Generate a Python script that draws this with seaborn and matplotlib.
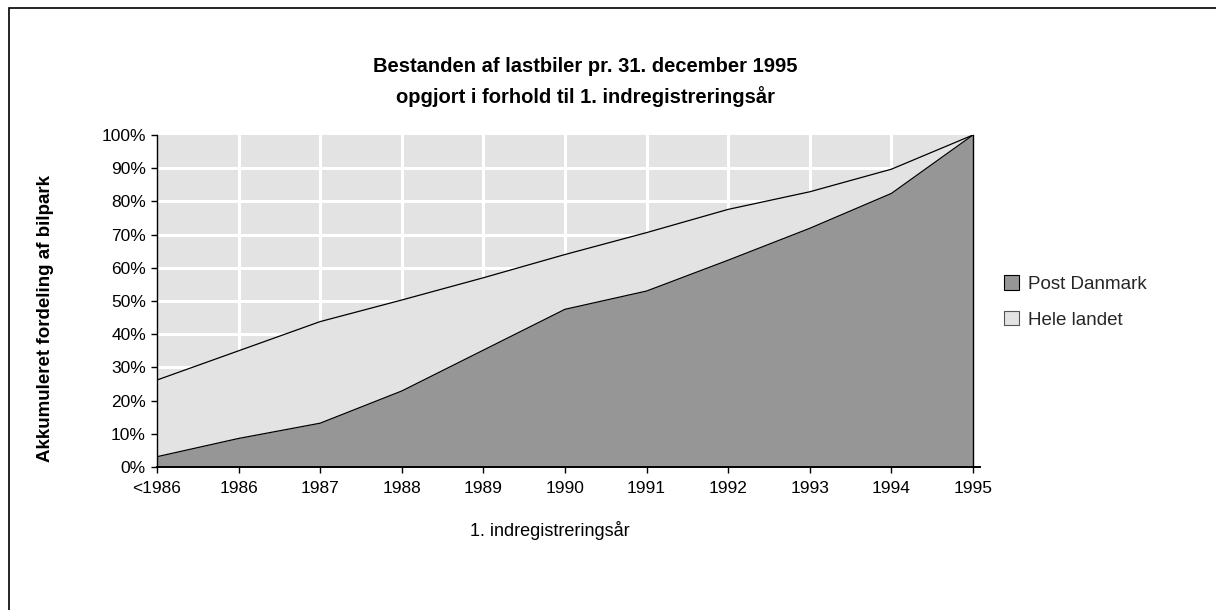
import matplotlib
matplotlib.use("Agg")
import matplotlib.pyplot as plt
from matplotlib.patches import Patch, Rectangle
import seaborn as sns
import pandas as pd
import numpy as np

# ---- data ----
years = ["<1986", "1986", "1987", "1988", "1989", "1990", "1991", "1992", "1993", "1994", "1995"]
hele_landet = [26.2, 35.0, 43.8, 50.3, 57.0, 64.0, 70.6, 77.6, 82.9, 89.7, 100.0]
post_danmark = [3.1, 8.6, 13.2, 22.9, 35.2, 47.5, 53.0, 62.3, 71.9, 82.4, 100.0]
y_ticks = [0, 10, 20, 30, 40, 50, 60, 70, 80, 90, 100]
title_lines = ["Bestanden af lastbiler pr. 31. december 1995",
               "opgjort i forhold til 1. indregistreringsår"]
series_names = ["Post Danmark", "Hele landet"]

sns.set_theme(style="white")
plt.rcParams['font.family'] = ['Liberation Sans', 'DejaVu Sans']

W, H = 1216, 610
fig = plt.figure(figsize=(W / 100, H / 100), dpi=100)
fig.patch.set_facecolor("white")
ax = fig.add_axes([157 / W, 1 - 467 / H, (973 - 157) / W, (467 - 135) / H])

df = pd.DataFrame({"pos": np.arange(len(years)), "year": years,
                   "hele": hele_landet, "post": post_danmark})

light = "#E3E3E3"
dark = "#969696"
ax.set_facecolor(light)

# grid (white), behind areas
for yt in y_ticks[1:-1]:
    ax.axhline(yt, color="white", lw=2.2, zorder=0.5)
for xp in df["pos"].iloc[1:-1]:
    ax.axvline(xp, color="white", lw=2.2, zorder=0.5)

ax.fill_between(df["pos"], 0, df["hele"], color=light, lw=0, zorder=1)
ax.fill_between(df["pos"], 0, df["post"], color=dark, lw=0, zorder=2)
sns.lineplot(data=df, x="pos", y="hele", ax=ax, color="black", lw=0.9, zorder=3)
sns.lineplot(data=df, x="pos", y="post", ax=ax, color="black", lw=0.9, zorder=3)

ax.set_xlim(0, len(years) - 1)
ax.set_ylim(0, 100)
ax.set_xticks(df["pos"])
ax.set_xticklabels(years)
ax.set_yticks(y_ticks)
ax.set_yticklabels([f"{v}%" for v in y_ticks])
ax.set_xlabel("")
ax.set_ylabel("")

ax.spines["top"].set_visible(False)
ax.spines["left"].set_color("black")
ax.spines["left"].set_linewidth(1.0)
ax.spines["right"].set_color("black")
ax.spines["right"].set_linewidth(1.0)
ax.spines["right"].set_zorder(4)
ax.spines["bottom"].set_color("black")
ax.spines["bottom"].set_linewidth(1.4)
ax.spines["bottom"].set_bounds(0, (len(years) - 1) * 1.008)

ax.tick_params(axis="both", which="both", direction="out", length=4, width=1,
               color="black", labelsize=12.5, labelcolor="black")
ax.tick_params(axis="y", pad=4)
ax.tick_params(axis="x", pad=6)
ax.tick_params(left=True, bottom=True)

# titles and labels
fig.text(585 / W, 1 - 66 / H, title_lines[0], ha="center", va="center",
         fontsize=14.5, fontweight="bold", color="black")
fig.text(585 / W, 1 - 97 / H, title_lines[1], ha="center", va="center",
         fontsize=14.5, fontweight="bold", color="black")
fig.text(46 / W, 1 - 318 / H, "Akkumuleret fordeling af bilpark", rotation=90,
         ha="center", va="center", fontsize=13.5, fontweight="bold", color="black")
fig.text(550 / W, 1 - 530 / H, "1. indregistreringsår", ha="center", va="center",
         fontsize=13, color="black")

# legend
handles = [Patch(facecolor=dark, edgecolor="black", lw=0.8, label=series_names[0]),
           Patch(facecolor=light, edgecolor="#555555", lw=0.8, label=series_names[1])]
fig.legend(handles=handles, loc="center left", bbox_to_anchor=(1004 / W, 1 - 302 / H),
           frameon=False, fontsize=13.5, handlelength=0.8, handleheight=0.8,
           handletextpad=0.5, labelspacing=0.95, borderaxespad=0, borderpad=0)

# outer border (left and top visible)
fig.patches.append(Rectangle((9 / W, -0.1), 1.2, (1 - 8 / H) + 0.1,
                             transform=fig.transFigure, fill=False,
                             edgecolor="black", lw=1.2))

fig.savefig("out.png", dpi=100)
